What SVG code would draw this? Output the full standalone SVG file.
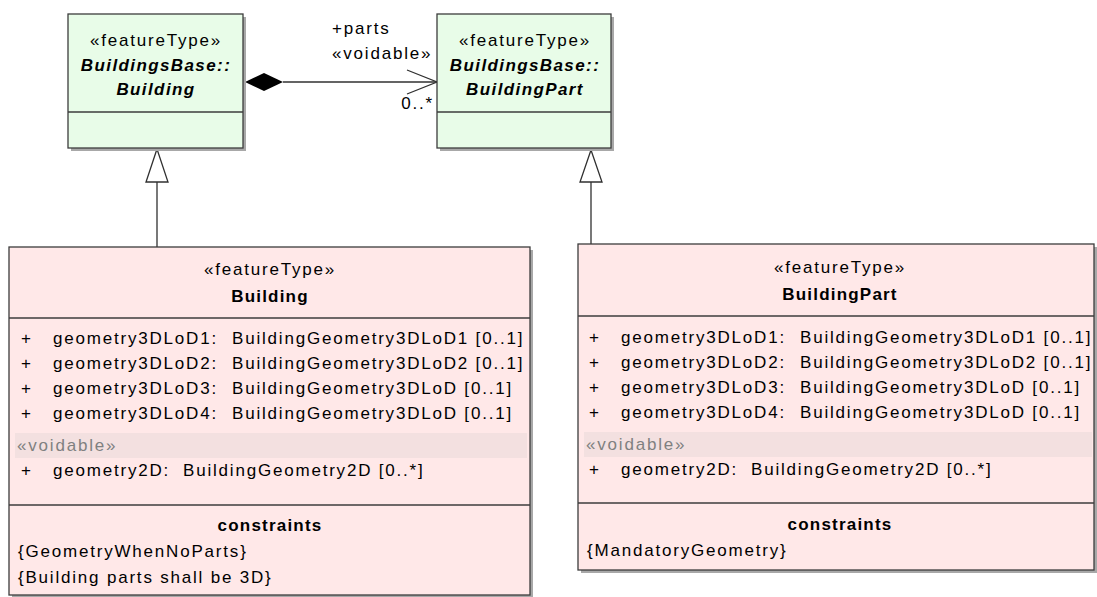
<svg xmlns="http://www.w3.org/2000/svg" width="1097" height="597" viewBox="0 0 1097 597">
<style>
text{font-family:"Liberation Sans",Arial,sans-serif;font-size:17px;letter-spacing:1.8px;fill:#000}
.c{text-anchor:middle}
.b{font-weight:bold;letter-spacing:1.2px}
.bi{font-weight:bold;font-style:italic;letter-spacing:1.4px}
.g{fill:#808080}
.box{stroke:#3c3c3c;stroke-width:1.3}
.green{fill:#e8fce8}
.pink{fill:#ffe8e8}
.sh{fill:#a8a8a8}
.div{stroke:#3c3c3c;stroke-width:1.3}
.band{fill:#f3e0e0}
.ln{stroke:#303030;stroke-width:1.3;fill:none}
</style>
<rect width="1097" height="597" fill="#fff"/>
<g id="connectors">
  <line class="ln" x1="157" y1="182" x2="157" y2="247"/>
  <polygon points="157,149 146,182 168,182" fill="#fff" stroke="#303030" stroke-width="1.3"/>
  <line class="ln" x1="591" y1="182" x2="591" y2="244"/>
  <polygon points="591,150 580,182 602,182" fill="#fff" stroke="#303030" stroke-width="1.3"/>
  <line class="ln" x1="283" y1="82" x2="437" y2="82"/>
  <polygon points="245,82 264,73 283,82 264,91" fill="#000"/>
  <polyline class="ln" points="407,70 437,82 407,94"/>
</g>
<g id="BuildingsBase_Building">
  <rect class="sh" x="71" y="17" width="175" height="134"/>
  <rect class="box green" x="68" y="14" width="175" height="134"/>
  <line class="div" x1="68" y1="112" x2="243" y2="112"/>
  <text class="c" x="156" y="46">«featureType»</text>
  <text class="c bi" x="156" y="71">BuildingsBase::</text>
  <text class="c bi" x="156" y="95">Building</text>
</g>
<g id="BuildingsBase_BuildingPart">
  <rect class="sh" x="440" y="17" width="174" height="134"/>
  <rect class="box green" x="437" y="14" width="174" height="134"/>
  <line class="div" x1="437" y1="112" x2="611" y2="112"/>
  <text class="c" x="525" y="46">«featureType»</text>
  <text class="c bi" x="525" y="71">BuildingsBase::</text>
  <text class="c bi" x="525" y="95">BuildingPart</text>
</g>
<g id="assoc_labels">
  <text x="332" y="34">+parts</text>
  <rect x="330" y="37" width="106" height="27" fill="#fff"/>
  <text x="332" y="59">«voidable»</text>
  <text x="434" y="109" style="text-anchor:end">0..*</text>
</g>
<g id="Building">
  <rect class="sh" x="12" y="250" width="521" height="350"/>
  <rect class="box pink" x="9" y="247" width="521" height="348"/>
  <line class="div" x1="9" y1="318" x2="530" y2="318"/>
  <line class="div" x1="9" y1="505" x2="530" y2="505"/>
  <rect class="band" x="15" y="433" width="512" height="25"/>
  <text class="c" x="270" y="275">«featureType»</text>
  <text class="c b" x="270" y="302">Building</text>
  <text x="21" y="344">+<tspan x="53">geometry3DLoD1:</tspan><tspan x="232">BuildingGeometry3DLoD1 [0..1]</tspan></text>
  <text x="21" y="369">+<tspan x="53">geometry3DLoD2:</tspan><tspan x="232">BuildingGeometry3DLoD2 [0..1]</tspan></text>
  <text x="21" y="394">+<tspan x="53">geometry3DLoD3:</tspan><tspan x="232">BuildingGeometry3DLoD [0..1]</tspan></text>
  <text x="21" y="419">+<tspan x="53">geometry3DLoD4:</tspan><tspan x="232">BuildingGeometry3DLoD [0..1]</tspan></text>
  <text class="g" x="17" y="451">«voidable»</text>
  <text x="21" y="476">+<tspan x="53">geometry2D:</tspan><tspan x="183">BuildingGeometry2D [0..*]</tspan></text>
  <text class="c b" x="270" y="531">constraints</text>
  <text x="18" y="557">{GeometryWhenNoParts}</text>
  <text x="18" y="583">{Building parts shall be 3D}</text>
</g>
<g id="BuildingPart">
  <rect class="sh" x="581" y="247" width="517" height="326"/>
  <rect class="box pink" x="578" y="244" width="516" height="326"/>
  <line class="div" x1="578" y1="316" x2="1094" y2="316"/>
  <line class="div" x1="578" y1="503" x2="1094" y2="503"/>
  <rect class="band" x="584" y="432" width="508" height="25"/>
  <text class="c" x="840" y="273">«featureType»</text>
  <text class="c b" x="840" y="300">BuildingPart</text>
  <text x="589" y="343">+<tspan x="621">geometry3DLoD1:</tspan><tspan x="800">BuildingGeometry3DLoD1 [0..1]</tspan></text>
  <text x="589" y="368">+<tspan x="621">geometry3DLoD2:</tspan><tspan x="800">BuildingGeometry3DLoD2 [0..1]</tspan></text>
  <text x="589" y="393">+<tspan x="621">geometry3DLoD3:</tspan><tspan x="800">BuildingGeometry3DLoD [0..1]</tspan></text>
  <text x="589" y="418">+<tspan x="621">geometry3DLoD4:</tspan><tspan x="800">BuildingGeometry3DLoD [0..1]</tspan></text>
  <text class="g" x="586" y="450">«voidable»</text>
  <text x="589" y="475">+<tspan x="621">geometry2D:</tspan><tspan x="751">BuildingGeometry2D [0..*]</tspan></text>
  <text class="c b" x="840" y="530">constraints</text>
  <text x="587" y="556">{MandatoryGeometry}</text>
</g>
</svg>
